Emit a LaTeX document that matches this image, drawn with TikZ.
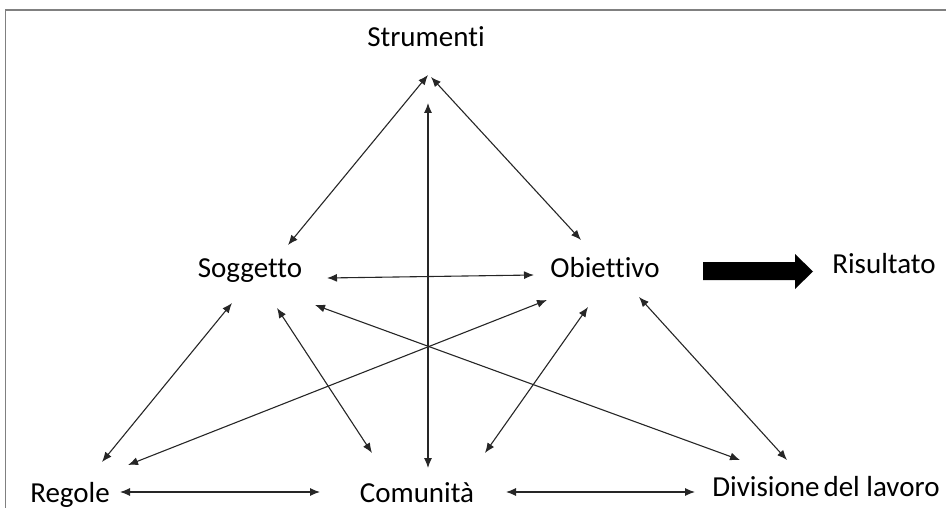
\documentclass[tikz,border=0pt]{standalone}
\usepackage{fontspec}
\setmainfont[Ligatures=NoCommon]{Carlito}
\usetikzlibrary{arrows.meta}

\tikzset{
  label/.style={anchor=base, inner sep=0pt, font=\fontsize{29}{35}\selectfont},
  link/.style={{Latex[length=10pt,width=8pt]}-{Latex[length=10pt,width=8pt]}, line width=1.1pt, draw=black!85},
}

\begin{document}
\begin{tikzpicture}[x=1pt,y=-1pt]
  \useasboundingbox (0,0) rectangle (946,508);
  \draw[gray, line width=1.5pt] (5.5,508) -- (5.5,10) -- (946,10);

  % labels
  \node[label] (str) at (426,47) {Strumenti};
  \node[label] (sog) at (250,277) {Soggetto};
  \node[label] (obi) at (605,277) {Obiettivo};
  \node[label] (ris) at (884,273) {Risultato};
  \node[label] (reg) at (70,502) {Regole};
  \node[label] (com) at (417,502) {Comunità};
  \node[label] (div) at (826,496) {Divisione\hspace{4pt}del lavoro};

  % connectors
  \draw[link] ([shift={(2,28)}]str.base) -- ([shift={(38,-32)}]sog.base);
  \draw[link] ([shift={(5,30)}]str.base) -- ([shift={(-24,-37)}]obi.base);
  \draw[link] ([shift={(2,56)}]str.base) -- ([shift={(11,-34)}]com.base);
  \draw[link] ([shift={(77,1)}]sog.base) -- ([shift={(-71,-2)}]obi.base);
  \draw[link] ([shift={(-18,26)}]sog.base) -- ([shift={(32,-40)}]reg.base);
  \draw[link] ([shift={(27,31)}]sog.base) -- ([shift={(-45,-49)}]com.base);
  \draw[link] ([shift={(65,28)}]sog.base) -- ([shift={(-86,-36)}]div.base);
  \draw[link] ([shift={(-58,23)}]obi.base) -- ([shift={(58,-37)}]reg.base);
  \draw[link] ([shift={(-17,30)}]obi.base) -- ([shift={(68,-49)}]com.base);
  \draw[link] ([shift={(34,20)}]obi.base) -- ([shift={(-39,-36)}]div.base);
  \draw[link] ([shift={(50,-10)}]reg.base) -- ([shift={(-97,-10)}]com.base);
  \draw[link] ([shift={(89,-10)}]com.base) -- ([shift={(-131,-4)}]div.base);

  % block arrow to Risultato
  \fill[black] (703,262) -- (795,262) -- (795,254) -- (813,271.5)
    -- (795,289) -- (795,280) -- (703,280) -- cycle;
\end{tikzpicture}
\end{document}
